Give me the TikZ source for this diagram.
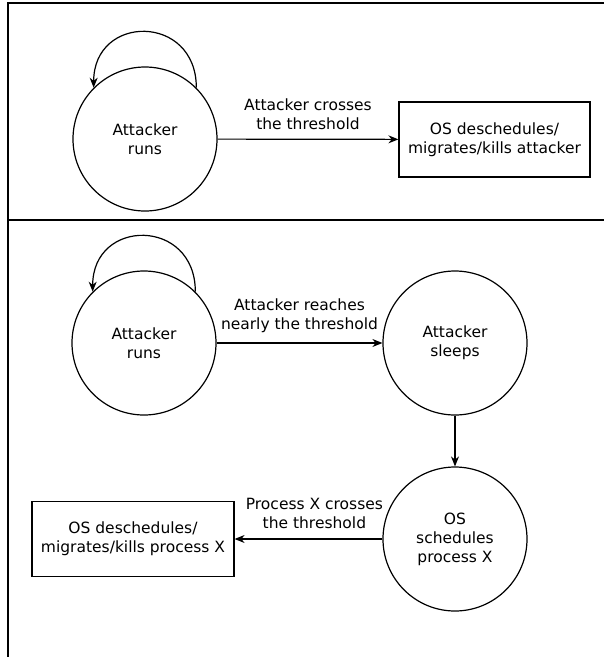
\documentclass[tikz,border=0pt]{standalone}
\usepackage{fontspec}
\setmainfont{DejaVu Sans}
\usetikzlibrary{arrows.meta}

\begin{document}
\begin{tikzpicture}[x=1pt,y=-1pt,
font=\fontsize{15.5}{19}\selectfont,
state/.style={draw,circle,line width=1.2pt,minimum size=144pt,inner sep=0pt,align=center},
action/.style={draw,rectangle,line width=1.2pt,minimum width=191pt,minimum height=75pt,align=center},
frame/.style={line width=2.5pt},
trans/.style={line width=1.2pt,-{Stealth[length=10pt,width=8pt]}},
lbl/.style={above=6pt,align=center}]
\useasboundingbox (0,0) rectangle (604,657);
% panel lines
\draw[frame] (604,3) -- (8,3) -- (8,657);
\draw[frame] (8,220) -- (604,220);
% upper panel
\node[state] (run1) at (145,139) {Attacker\\runs};
\node[action] (kill1) at (494.5,139.5) {OS deschedules/\\migrates/kills attacker};
\draw[trans] (run1.45) to[out=90,in=90,looseness=1.85] (run1.135);
\draw[trans] (run1) -- node[lbl] {Attacker crosses\\the threshold} (kill1);
% lower panel
\node[state] (run2) at (144,343) {Attacker\\runs};
\node[state] (sleep) at (455,343) {Attacker\\sleeps};
\node[state] (sched) at (455,539) {OS\\schedules\\process X};
\node[action,minimum width=202pt] (kill2) at (133,539) {OS deschedules/\\migrates/kills process X};
\draw[trans] (run2.45) to[out=90,in=90,looseness=1.85] (run2.135);
\draw[trans] (run2) -- node[lbl] {Attacker reaches\\nearly the threshold} (sleep);
\draw[trans] (sleep) -- (sched);
\draw[trans] (sched) -- node[lbl,pos=0.46] {Process X crosses\\the threshold} (kill2);
\end{tikzpicture}
\end{document}
